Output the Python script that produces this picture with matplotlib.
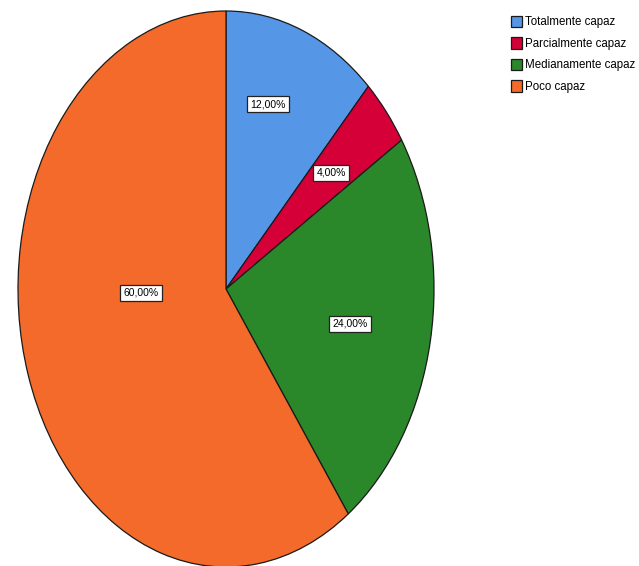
import matplotlib
matplotlib.use("Agg")
import matplotlib.pyplot as plt
import numpy as np

plt.rcParams["font.family"] = ["Liberation Sans", "DejaVu Sans"]

categories = ["Totalmente capaz", "Parcialmente capaz", "Medianamente capaz", "Poco capaz"]
percentages = [12.0, 4.0, 24.0, 60.0]
colors = ["#5596E6", "#D50037", "#2A872A", "#F46A2B"]

# label centres inside each wedge, (radius fraction, angle clockwise from top in deg)
label_pos = [(0.695, 16.9), (0.655, 50.4), (0.609, 101.9), (0.409, 268.0)]

W, H = 639, 566
fig = plt.figure(figsize=(W / 100, H / 100), dpi=100)
ax = fig.add_axes([0, 0, 1, 1])

wedges, _ = ax.pie(percentages, colors=colors, startangle=90, counterclock=False,
                   wedgeprops=dict(edgecolor="#1a1a1a", linewidth=0.9))

# SPSS stretches the pie into an ellipse: centre (226, 289) px, radii 208 x 278 px
cx, cy, rx, ry = 226, 289, 208, 278
ax.set_aspect("auto")
ax.set_xlim(-cx / rx, (W - cx) / rx)
ax.set_ylim((cy - H) / ry, cy / ry)
ax.axis("off")

for val, (r, ang) in zip(percentages, label_pos):
    t = np.deg2rad(ang)
    txt = f"{val:.2f}%".replace(".", ",")
    ax.text(r * np.sin(t), r * np.cos(t), txt, ha="center", va="center", fontsize=7.5,
            bbox=dict(boxstyle="square,pad=0.3", fc="white", ec="#222222", lw=0.9))

leg = fig.legend(wedges, categories, loc="upper left",
                 bbox_to_anchor=(506 / W, 1 - 11 / H), frameon=False,
                 fontsize=8.3, handlelength=0.95, handleheight=1.2,
                 handletextpad=0.3, labelspacing=0.75, borderaxespad=0)
for h in leg.legend_handles:
    h.set_edgecolor("#1a1a1a")
    h.set_linewidth(0.9)

fig.savefig("out.png", dpi=100)
